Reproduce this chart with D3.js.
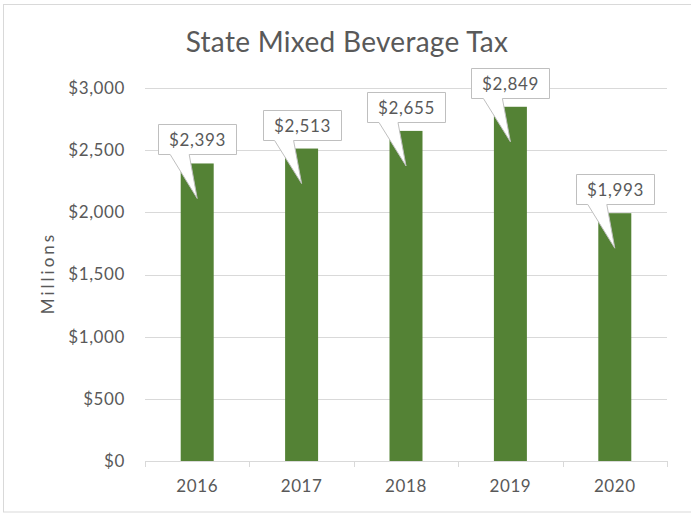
<!DOCTYPE html>
<html><head><meta charset="utf-8">
<script src="https://cdn.jsdelivr.net/npm/d3@7"></script>
<style>body{margin:0;background:#fff}svg{display:block}text{font-family:Lato,"Open Sans",sans-serif;fill:#595959}</style>
</head><body>
<script>
const categories = ["2016","2017","2018","2019","2020"];
const values = [2393,2513,2655,2849,1993];
const yTicks = [0,500,1000,1500,2000,2500,3000];
const title = "State Mixed Beverage Tax";
const yTitle = "Millions";

const W=691,H=514;
const svg=d3.select("body").append("svg").attr("width",W).attr("height",H);
svg.append("rect").attr("x",3.5).attr("y",4.5).attr("width",720).attr("height",507.5)
  .attr("fill","#fff").attr("stroke","#d9d9d9");

const x=d3.scaleBand().domain(categories).range([145,667]).paddingInner(0.684).paddingOuter(0.342);
const y=d3.scaleLinear().domain([0,3000]).range([461,88]);
const fmt=v=>"$"+d3.format(",")(v);
const fs="17px", ls="0.6px";

// gridlines
svg.append("g").selectAll("line").data(yTicks.filter(d=>d>0)).join("line")
  .attr("x1",145).attr("x2",667).attr("y1",d=>Math.round(y(d))+0.5).attr("y2",d=>Math.round(y(d))+0.5)
  .attr("stroke","#d9d9d9");

// y labels
svg.append("g").selectAll("text").data(yTicks).join("text")
  .attr("x",125).attr("y",d=>y(d)).attr("dy","0.35em").attr("text-anchor","end")
  .style("font-size",fs).style("letter-spacing",ls).text(fmt);

// bars
svg.append("g").selectAll("rect").data(values).join("rect")
  .attr("x",(d,i)=>x(categories[i])).attr("width",x.bandwidth())
  .attr("y",d=>y(d)).attr("height",d=>y(0)-y(d)).attr("fill","#548235");

// x axis
const step=x.step();
const ax=svg.append("g");
ax.append("line").attr("x1",145).attr("x2",667).attr("y1",461.5).attr("y2",461.5).attr("stroke","#d9d9d9");
ax.selectAll("line.t").data(d3.range(categories.length+1)).join("line").attr("class","t")
  .attr("x1",i=>Math.round(145+i*step)+0.5).attr("x2",i=>Math.round(145+i*step)+0.5)
  .attr("y1",461).attr("y2",467).attr("stroke","#d9d9d9");
ax.selectAll("text").data(categories).join("text")
  .attr("x",d=>x(d)+x.bandwidth()/2).attr("y",486).attr("dy","0.35em").attr("text-anchor","middle")
  .style("font-size",fs).style("letter-spacing",ls).text(d=>d);

// callouts
const bw=78,bh=30;
const cg=svg.append("g");
values.forEach((v,i)=>{
  const cx=x(categories[i])+x.bandwidth()/2;
  const top=y(v);
  const bottom=Math.round(top-9)+0.5, t=bottom-bh;
  const l=Math.round(cx-bw/2)+0.5, r=l+bw;
  const tip=top+35;
  const p=`M${l},${t}H${r}V${bottom}H${cx-8}L${cx},${tip}L${cx-27},${bottom}H${l}Z`;
  cg.append("path").attr("d",p).attr("fill","#fff").attr("stroke","#bfbfbf");
  cg.append("text").attr("x",(l+r)/2).attr("y",(t+bottom)/2).attr("dy","0.36em")
    .attr("text-anchor","middle").style("font-size",fs).style("letter-spacing",ls).text(fmt(v));
});

// title
svg.append("text").attr("x",347).attr("y",52).attr("text-anchor","middle")
  .style("font-size","28px").style("letter-spacing","0.3px").text(title);
// y title
svg.append("text").attr("transform","translate(54,273) rotate(-90)").attr("text-anchor","middle")
  .style("font-size","17px").style("letter-spacing","3px").text(yTitle);
</script>
</body></html>
